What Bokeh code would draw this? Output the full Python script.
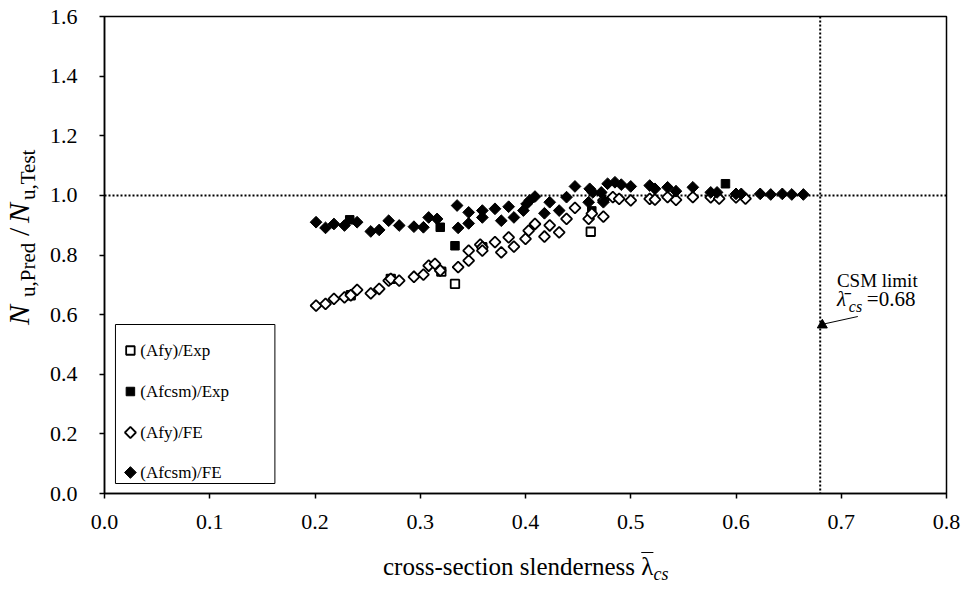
import numpy as np
from bokeh.plotting import figure
from bokeh.layouts import row, column
from bokeh.models import (FixedTicker, NumeralTickFormatter, Span, Label, Range1d,
                          BoxAnnotation, Div)
from bokeh.embed import file_html
from bokeh.resources import INLINE

# ---------------- data ----------------
afy_exp_x = [0.234, 0.272, 0.320, 0.333, 0.359, 0.462]
afy_exp_y = [0.665, 0.720, 0.744, 0.703, 0.826, 0.878]

afcsm_exp_x = [0.233, 0.319, 0.333, 0.463, 0.590]
afcsm_exp_y = [0.918, 0.893, 0.831, 0.948, 1.039]

afy_fe_x = [0.201, 0.210, 0.218, 0.228, 0.234, 0.240, 0.253, 0.261, 0.270, 0.272,
            0.280, 0.294, 0.303, 0.308, 0.314, 0.319, 0.336, 0.346, 0.346, 0.357,
            0.359, 0.359, 0.371, 0.377, 0.384, 0.389, 0.400, 0.403, 0.409, 0.418,
            0.423, 0.432, 0.439, 0.447, 0.460, 0.463, 0.474, 0.474, 0.483, 0.489,
            0.500, 0.518, 0.523, 0.535, 0.543, 0.559, 0.576, 0.584, 0.600, 0.609]
afy_fe_y = [0.630, 0.636, 0.653, 0.658, 0.665, 0.683, 0.671, 0.686, 0.714, 0.720,
            0.714, 0.727, 0.734, 0.764, 0.770, 0.748, 0.759, 0.781, 0.815, 0.835,
            0.826, 0.815, 0.843, 0.809, 0.859, 0.828, 0.854, 0.882, 0.904, 0.862,
            0.899, 0.876, 0.921, 0.958, 0.921, 0.939, 0.929, 0.983, 0.994, 0.988,
            0.983, 0.988, 0.986, 0.994, 0.985, 0.994, 0.993, 0.989, 0.993, 0.989]

afcsm_fe_x = [0.201, 0.210, 0.218, 0.228, 0.240, 0.253, 0.261, 0.270, 0.280, 0.294,
              0.303, 0.308, 0.316, 0.335, 0.336, 0.346, 0.346, 0.359, 0.359, 0.371,
              0.377, 0.384, 0.389, 0.398, 0.401, 0.404, 0.409, 0.418, 0.423, 0.432,
              0.439, 0.447, 0.460, 0.461, 0.464, 0.472, 0.474, 0.478, 0.485, 0.491,
              0.500, 0.518, 0.523, 0.535, 0.543, 0.559, 0.576, 0.582, 0.600, 0.605,
              0.623, 0.633, 0.644, 0.653, 0.664]
afcsm_fe_y = [0.910, 0.891, 0.904, 0.899, 0.910, 0.879, 0.884, 0.915, 0.899, 0.895,
              0.893, 0.926, 0.921, 0.966, 0.891, 0.943, 0.906, 0.949, 0.926, 0.955,
              0.915, 0.962, 0.926, 0.949, 0.971, 0.983, 0.996, 0.940, 0.977, 0.949,
              0.994, 1.030, 0.977, 1.022, 1.010, 1.010, 0.977, 1.039, 1.044, 1.036,
              1.030, 1.033, 1.022, 1.027, 1.014, 1.027, 1.010, 1.010, 1.005, 1.005,
              1.005, 1.003, 1.005, 1.003, 1.003]

series_labels = ["(Afy)/Exp", "(Afcsm)/Exp", "(Afy)/FE", "(Afcsm)/FE"]
csm_limit = 0.68
csm_marker_y = 0.565
ref_ratio = 1.0
x_ticks = [0.0, 0.1, 0.2, 0.3, 0.4, 0.5, 0.6, 0.7, 0.8]
y_ticks = [0.0, 0.2, 0.4, 0.6, 0.8, 1.0, 1.2, 1.4, 1.6]

SERIF = "Liberation Serif"

# ---------------- layout (page pixels) ----------------
TOTAL_W, TOTAL_H = 962, 590
YT_W = 46                      # width of the y-title strip
FIG_W, FIG_H = TOTAL_W - YT_W, 540
XT_H = TOTAL_H - FIG_H         # height of the x-title strip
FL, FR, FT, FB = 101, 946, 16, 493          # frame edges on the page
XMIN, XMAX, YMIN, YMAX = 0.0, 0.8, 0.0, 1.6


def dx(px):
    return XMIN + (px - FL) * (XMAX - XMIN) / (FR - FL)


def dy(py):
    return YMIN + (FB - py) * (YMAX - YMIN) / (FB - FT)


p = figure(width=FIG_W, height=FIG_H, output_backend="svg", toolbar_location=None,
           x_range=Range1d(XMIN, XMAX), y_range=Range1d(YMIN, YMAX),
           min_border_left=FL - YT_W, min_border_right=TOTAL_W - FR,
           min_border_top=FT, min_border_bottom=FIG_H - FB)
p.background_fill_color = "white"
p.border_fill_color = "white"
p.outline_line_color = "black"
p.outline_line_width = 1.5
p.xgrid.visible = False
p.ygrid.visible = False

for ax, ticks, standoff in ((p.xaxis[0], x_ticks, 16), (p.yaxis[0], y_ticks, 22)):
    ax.ticker = FixedTicker(ticks=ticks)
    ax.formatter = NumeralTickFormatter(format="0.0")
    ax.axis_line_color = "black"
    ax.axis_line_width = 1.5
    ax.major_tick_line_color = "black"
    ax.major_tick_line_width = 1.5
    ax.major_tick_in = 0
    ax.major_tick_out = 5
    ax.minor_tick_line_color = None
    ax.major_label_text_font = SERIF
    ax.major_label_text_font_size = "22px"
    ax.major_label_text_color = "black"
    ax.major_label_standoff = standoff
    ax.axis_label = None

# reference lines
p.add_layout(Span(location=ref_ratio, dimension="width", line_color="black",
                  line_width=2, line_dash="2 2", level="underlay"))
p.add_layout(Span(location=csm_limit, dimension="height", line_color="black",
                  line_width=2, line_dash="2 2", level="underlay"))

rot = np.pi / 4
styles = [dict(marker="square", size=8.5, angle=0, fill_color="white", line_width=1.8),
          dict(marker="square", size=8.5, angle=0, fill_color="black", line_width=1),
          dict(marker="square", size=7.8, angle=rot, fill_color="white", line_width=1.8),
          dict(marker="square", size=8.3, angle=rot, fill_color="black", line_width=1)]
series = [(afy_exp_x, afy_exp_y), (afcsm_exp_x, afcsm_exp_y),
          (afy_fe_x, afy_fe_y), (afcsm_fe_x, afcsm_fe_y)]
for (xs, ys), st in zip(series, styles):
    p.scatter(xs, ys, line_color="black", **st)

# CSM limit annotation
p.line([dx(857), csm_limit + 0.004], [dy(316), csm_marker_y + 0.004],
       line_color="black", line_width=1)
p.scatter([csm_limit + 0.002], [csm_marker_y], marker="triangle", size=10,
          fill_color="black", line_color="black")

p.add_layout(Label(x=dx(836), y=dy(290), text="CSM limit", text_font=SERIF,
                   text_font_size="19px", text_color="black"))
p.add_layout(Label(x=dx(836), y=dy(310), text="λ̄", text_font=SERIF, text_font_style="italic",
                   text_font_size="21px", text_color="black"))
p.add_layout(Label(x=dx(848), y=dy(314), text="cs", text_font=SERIF, text_font_style="italic",
                   text_font_size="16px", text_color="black"))
p.add_layout(Label(x=dx(866), y=dy(310), text="=0.68", text_font=SERIF,
                   text_font_size="21px", text_color="black"))

# legend (drawn by hand so that the diamonds keep their rotation)
p.add_layout(BoxAnnotation(left=dx(112), right=dx(272), top=dy(324), bottom=dy(483),
                           fill_color="white", fill_alpha=1.0, line_color="black",
                           line_alpha=1.0, line_width=1))
legend_rows = [350, 391, 432, 472]
for lab, row_y, st in zip(series_labels, legend_rows, styles):
    p.scatter([dx(127)], [dy(row_y)], line_color="black", level="overlay", **st)
    p.add_layout(Label(x=dx(137), y=dy(row_y), text=lab, text_baseline="middle",
                       text_font=SERIF, text_font_size="17px", text_color="black",
                       level="overlay"))

# ---------------- axis titles (HTML, real text) ----------------
def piece(txt, w, extra=""):
    return f'<span style="display:inline-block;width:{w}px;{extra}">{txt}</span>'


sub = "font-size:21px;vertical-align:-6px;"
y_html = (
    f'<div style="width:{TOTAL_H}px;height:{YT_W}px;box-sizing:border-box;'
    f'transform-origin:0 0;transform:translate(0px,{TOTAL_H}px) rotate(-90deg);'
    f"font-family:'{SERIF}';font-size:30px;line-height:30px;color:black;"
    f'white-space:nowrap;padding-left:{TOTAL_H - 325}px;padding-top:4px;">'
    + piece("<i>N</i>", 28)
    + piece("u,Pred", 57, sub)
    + piece("/", 17, "padding-left:4px;box-sizing:border-box;")
    + piece("<i>N</i>", 23)
    + piece("u,Test", 60, sub)
    + '</div>'
)
x_html = (
    f"<div style=\"font-family:'{SERIF}';font-size:25px;line-height:28px;color:black;"
    f'white-space:nowrap;padding-left:{383 - YT_W}px;padding-top:13px;">'
    'cross-section slenderness '
    '<span style="text-decoration:overline;text-decoration-thickness:1px;">λ</span>'
    '<i style="font-size:18px;vertical-align:-5px;">cs</i></div>'
)
ydiv = Div(text=y_html, width=YT_W, height=TOTAL_H, margin=0,
           styles={"overflow": "visible"})
xdiv = Div(text=x_html, width=FIG_W, height=XT_H, margin=0,
           styles={"overflow": "visible"})

layout = row(ydiv, column(p, xdiv, spacing=0), spacing=0)

open("out.html", "w").write(file_html(layout, INLINE))
